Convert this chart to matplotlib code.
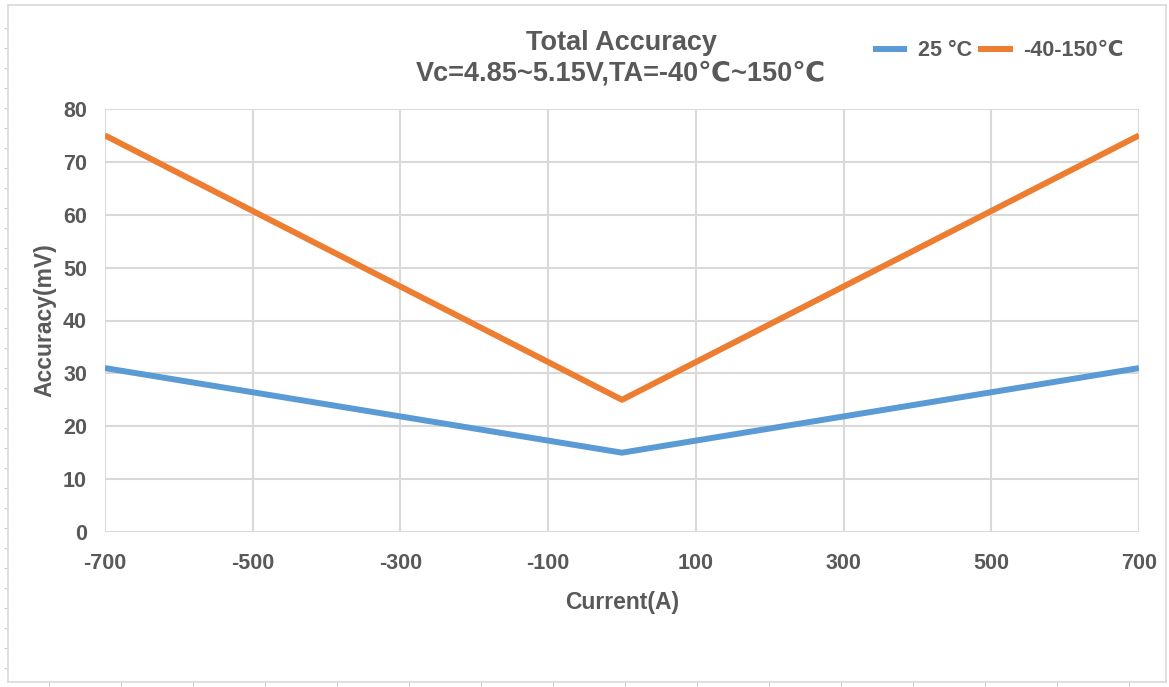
import numpy as np
import matplotlib
matplotlib.use('Agg')
import matplotlib.pyplot as plt

######################################
# Total Accuracy vs Current
######################################

current   = [-700, 0, 700]
acc_25    = [31, 15, 31]
acc_hot   = [75, 25, 75]

xticks = [-700, -500, -300, -100, 100, 300, 500, 700]
yticks = [0, 10, 20, 30, 40, 50, 60, 70, 80]

lab_25  = '25 °C'
lab_hot = '-40-150℃'

title = 'Total Accuracy\nVc=4.85~5.15V,TA=-40℃~150℃'

grey  = '#595959'
blue  = '#5B9BD5'
orange= '#ED7D31'
gridc = '#D9D9D9'

plt.rcParams['font.family'] = ['Liberation Sans', 'DejaVu Sans']
plt.rcParams['font.weight'] = 'bold'
plt.rcParams['axes.unicode_minus'] = False

W, H = 1169, 687
fig = plt.figure(figsize=(W/100, H/100), dpi=100)

# outer frame with small ruler-like ticks
bg = fig.add_axes([8/W, 1-682/H, (1166-8)/W, (682-5)/H])
bg.set_xlim(8, 1166)
bg.set_ylim(682, 5)
for s in bg.spines.values():
    s.set_color(gridc)
    s.set_linewidth(1.2)
bg.set_xticks(np.arange(49, 1166, 72))
bg.set_yticks(np.arange(28, 682, 20))
bg.tick_params(axis='both', length=3, color='#C8CCDA', labelleft=False,
               labelbottom=False, direction='out', width=0.8)
bg.set_zorder(0)

ax = fig.add_axes([105/W, 1-532/H, (1139-105)/W, (532-109)/H])
ax.set_zorder(1)
ax.plot(current, acc_25, color=blue, lw=4.3, label=lab_25, solid_capstyle='butt')
ax.plot(current, acc_hot, color=orange, lw=4.3, label=lab_hot, solid_capstyle='butt')

ax.set_xlim(-700, 700)
ax.set_ylim(0, 80)
ax.set_xticks(xticks)
ax.set_yticks(yticks)
ax.grid(True, color=gridc, lw=1.5)
ax.set_axisbelow(True)
for s in ax.spines.values():
    s.set_visible(False)
ax.tick_params(axis='both', length=0, labelsize=15.5, labelcolor=grey)
ax.tick_params(axis='y', pad=13)
ax.tick_params(axis='x', pad=15)

ax.set_xlabel('Current(A)', fontsize=16.5, color=grey, fontweight='bold', labelpad=12)
ax.set_ylabel('Accuracy(mV)', fontsize=16.5, color=grey, fontweight='bold', labelpad=5)

fig.text(621/W, 1-58/H, title, ha='center', va='center', fontsize=19.5,
         color=grey, fontweight='bold', linespacing=1.25)

fig.legend(loc='center left', bbox_to_anchor=(864/W, 1-51/H), ncol=2, frameon=False,
           fontsize=15.5, handlelength=1.6, handletextpad=0.5, columnspacing=0.3,
           labelcolor=grey, borderaxespad=0)

plt.savefig('out.png', dpi=100)
